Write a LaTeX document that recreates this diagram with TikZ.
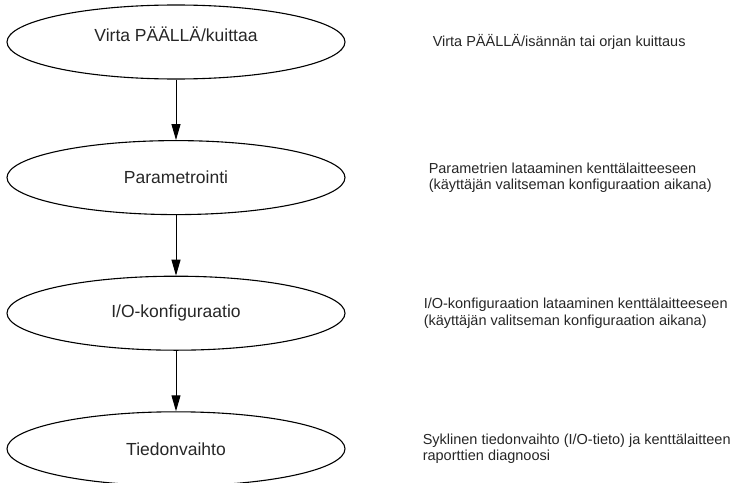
\documentclass[tikz,border=0pt]{standalone}
\usepackage{fontspec}
\setmainfont{Liberation Sans}
\usetikzlibrary{shapes.geometric,positioning,arrows.meta}

\begin{document}
\begin{tikzpicture}[x=1pt,y=-1pt]
  \tikzstyle{elln}=[ellipse,draw,line width=1.1pt,minimum width=338pt,minimum height=74pt,inner sep=0,text=black!85,font=\fontsize{17.5}{21}\selectfont]
  \tikzstyle{txtn}=[align=left,inner sep=0,text=black!85,font=\fontsize{14.5}{16.5}\selectfont]
  \tikzstyle{arr}=[line width=1pt,-{Triangle[length=16pt,width=9pt]}]
  \useasboundingbox (0,0) rectangle (733,482);
  % vaiheet
  \node(e1)[elln,text depth=16pt] at (176,42) {Virta PÄÄLLÄ/kuittaa};
  \node(e2)[elln,below=60.5pt of e1] {Parametrointi};
  \node(e3)[elln,below=60.5pt of e2] {I/O-konfiguraatio};
  \node(e4)[elln,below=60.5pt of e3] {Tiedonvaihto};
  % selitykset
  \node(t1)[txtn,right=87pt of e1] {Virta PÄÄLLÄ/isännän tai orjan kuittaus};
  \node(t2)[txtn,right=83pt of e2] {Parametrien lataaminen kenttälaitteeseen\\(käyttäjän valitseman konfiguraation aikana)};
  \node(t3)[txtn,right=78pt of e3] {I/O-konfiguraation lataaminen kenttälaitteeseen\\(käyttäjän valitseman konfiguraation aikana)};
  \node(t4)[txtn,right=77pt of e4] {Syklinen tiedonvaihto (I/O-tieto) ja kenttälaitteen\\raporttien diagnoosi};
  \draw[arr] (e1) -- (e2);
  \draw[arr] (e2) -- (e3);
  \draw[arr] (e3) -- (e4);
\end{tikzpicture}
\end{document}
